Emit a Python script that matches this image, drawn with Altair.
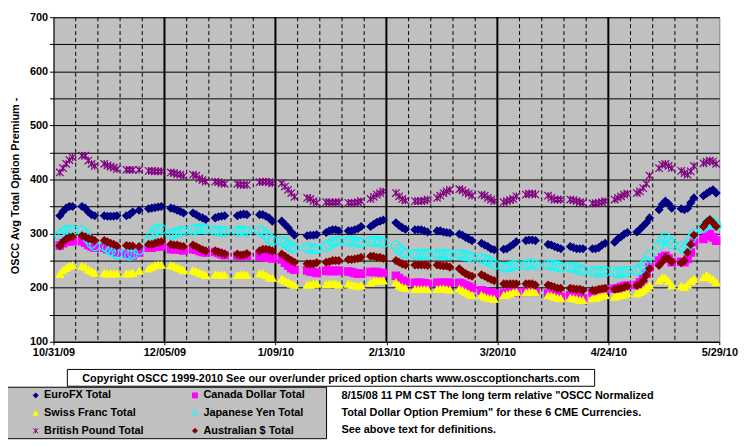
import altair as alt
import pandas as pd

# ---------------- data ----------------
holidays = ["2009-11-26", "2009-12-25", "2010-01-01", "2010-01-18", "2010-02-15", "2010-04-02"]
trade_days = [d.strftime("%Y-%m-%d") for d in pd.bdate_range("2009-11-02", "2010-05-28")
              if d.strftime("%Y-%m-%d") not in holidays]

eurofx = [
    [333, 341, 347, 350, 350], [350, 347, 340, 335, 333], [333, 332, 332, 332, 333], [333, 335, 340, 343],
    [346, 347, 348, 349, 350], [347, 346, 343, 341, 338], [338, 335, 331, 329, 326], [329, 331, 332, 333],
    [333, 335, 336, 335], [335, 335, 332, 329, 323], [323, 317, 311, 303, 297], [296, 297, 297, 298],
    [302, 305, 307, 307, 305], [305, 305, 307, 309, 313], [313, 317, 321, 323, 325], [320, 315, 311, 308],
    [307, 307, 307, 305, 303], [305, 305, 303, 302, 301], [299, 297, 293, 290, 287], [282, 279, 276, 272, 270],
    [271, 272, 276, 280, 285], [287, 288, 288, 287], [280, 279, 276, 274, 272], [276, 274, 272, 272, 272],
    [272, 272, 274, 279, 282], [284, 290, 294, 299, 302], [303, 308, 314, 320, 329], [344, 354, 360, 355, 347],
    [346, 344, 347, 357, 366], [370, 374, 378, 381, 375],
]
canada = [
    [278, 282, 285, 286, 286], [286, 283, 279, 276, 274], [274, 271, 271, 268, 265], [262, 260, 260, 265],
    [274, 274, 276, 276, 277], [271, 271, 271, 270, 269], [271, 270, 268, 266, 265], [266, 264, 262, 260],
    [259, 258, 259, 259], [258, 258, 256, 256, 254], [252, 246, 241, 236, 233], [232, 230, 229, 227],
    [231, 231, 231, 231, 231], [230, 229, 227, 226, 226], [229, 229, 229, 227, 227], [222, 218, 213, 211],
    [209, 209, 209, 208, 207], [209, 209, 209, 209, 209], [209, 207, 204, 202, 199], [195, 193, 192, 191, 189],
    [189, 189, 191, 191, 192], [192, 193, 193, 192], [189, 187, 186, 185, 183], [186, 185, 183, 181, 180],
    [191, 192, 193, 195, 197], [198, 199, 201, 203, 204], [205, 210, 216, 226, 238], [250, 256, 259, 254, 247],
    [248, 247, 253, 265, 284], [290, 296, 299, 293, 287],
]
swiss = [
    [225, 232, 236, 240, 241], [240, 238, 233, 230, 227], [227, 226, 226, 226, 226], [226, 226, 227, 231],
    [235, 238, 241, 242, 242], [241, 240, 237, 235, 232], [232, 230, 227, 226, 223], [224, 224, 223, 223],
    [223, 224, 224, 223], [226, 226, 223, 219, 218], [216, 213, 210, 207, 205], [205, 205, 207, 207],
    [206, 207, 207, 207, 205], [207, 205, 204, 203, 204], [209, 212, 213, 213, 213], [210, 204, 201, 199],
    [197, 197, 197, 197, 197], [197, 198, 198, 197, 196], [198, 195, 192, 189, 186], [186, 183, 181, 180, 179],
    [186, 187, 189, 191, 192], [191, 192, 192, 191], [186, 185, 183, 181, 180], [181, 180, 179, 177, 177],
    [180, 181, 183, 185, 186], [183, 185, 186, 187, 189], [189, 192, 195, 199, 204], [213, 219, 218, 212, 204],
    [203, 201, 205, 212, 216], [219, 223, 219, 215, 210],
]
yen = [
    [296, 302, 306, 307, 306], [305, 299, 290, 282, 277], [277, 274, 268, 265, 262], [262, 260, 263, 270],
    [287, 297, 306, 309, 308], [298, 300, 302, 304, 305], [306, 308, 309, 309, 308], [305, 305, 304, 304],
    [304, 305, 305, 304], [306, 303, 297, 291, 287], [287, 283, 279, 275, 273], [274, 272, 271, 272],
    [276, 280, 284, 286, 286], [286, 286, 285, 284, 283], [286, 286, 286, 285, 283], [277, 271, 266, 264],
    [262, 262, 262, 262, 262], [262, 262, 262, 261, 261], [262, 260, 259, 258, 256], [254, 252, 250, 247, 242],
    [238, 238, 239, 241, 242], [242, 244, 244, 242], [242, 242, 241, 240, 238], [238, 238, 236, 233, 232],
    [230, 229, 229, 230, 230], [229, 227, 229, 229, 230], [232, 235, 241, 248, 260], [277, 287, 293, 288, 281],
    [276, 271, 277, 290, 299], [311, 317, 323, 320, 315],
]
pound = [
    [413, 421, 429, 436, 441], [444, 444, 435, 429, 425], [429, 426, 424, 422, 419], [418, 418, 418, 418],
    [416, 416, 415, 415, 415], [413, 412, 410, 409, 406], [409, 407, 402, 399, 396], [396, 395, 393, 392],
    [392, 390, 390, 390], [395, 396, 396, 395, 393], [393, 387, 381, 375, 368], [366, 364, 360, 357],
    [358, 358, 357, 358, 358], [357, 357, 357, 358, 360], [364, 368, 372, 375, 378], [375, 369, 364, 361],
    [360, 360, 360, 361, 363], [366, 370, 375, 378, 381], [382, 380, 376, 374, 370], [372, 370, 366, 363, 360],
    [358, 360, 362, 364, 369], [372, 374, 374, 372], [370, 366, 363, 363, 363], [363, 362, 360, 358, 357],
    [356, 356, 357, 358, 360], [363, 366, 369, 372, 374], [375, 378, 384, 392, 407], [421, 427, 429, 425, 421],
    [416, 412, 409, 415, 425], [430, 433, 435, 433, 429],
]
aussie = [
    [277, 285, 290, 293, 294], [296, 294, 291, 290, 287], [287, 285, 282, 280, 277], [278, 277, 277, 276],
    [280, 280, 282, 284, 285], [280, 279, 279, 277, 276], [279, 276, 273, 270, 268], [268, 266, 264, 262],
    [262, 260, 261, 263], [268, 271, 271, 270, 268], [262, 258, 254, 250, 247], [244, 244, 244, 246],
    [247, 248, 250, 250, 250], [252, 252, 253, 254, 256], [258, 258, 256, 256, 254], [250, 247, 244, 242],
    [242, 242, 242, 242, 241], [242, 241, 240, 240, 238], [235, 230, 226, 223, 221], [224, 221, 218, 215, 213],
    [207, 207, 207, 207, 207], [207, 207, 207, 205], [205, 203, 201, 199, 199], [199, 198, 197, 197, 195],
    [195, 195, 197, 198, 199], [197, 198, 199, 201, 203], [204, 207, 213, 223, 235], [241, 248, 256, 253, 248],
    [246, 250, 265, 280, 297], [313, 321, 326, 320, 313],
]

series_names = ["EuroFX Total", "Canada Dollar Total", "Swiss Franc Total",
                "Japanese Yen Total", "British Pound Total", "Australian $ Total"]
series_weeks = [eurofx, canada, swiss, yen, pound, aussie]
stroke_colors = ["#000080", "#FF00FF", "#FFFF00", "#00FFFF", "#800080", "#800000"]
fill_colors = ["#000080", "#FF00FF", "#FFFF00", "transparent", "#800080", "#800000"]
shapes = ["diamond", "square", "triangle-up", "circle",
          "M-1,-1L1,1M1,-1L-1,1M0,-1L0,1", "diamond"]

major_lines = ["2009-12-05", "2010-01-09", "2010-02-13", "2010-03-20", "2010-04-24"]
label_dates = ["2009-10-31"] + major_lines + ["2010-05-29"]
minor_lines = [d.strftime("%Y-%m-%d") for d in pd.date_range("2009-11-07", "2010-05-22", freq="7D")
               if d.strftime("%Y-%m-%d") not in major_lines]

copyright_text = "Copyright OSCC 1999-2010 See our over/under priced option charts www.osccoptioncharts.com"
note_lines = ['8/15/08 11 PM CST The long term relative "OSCC Normalized',
              'Total Dollar Option Premium" for these 6 CME Currencies.',
              'See above text for definitions.']

rows = []
for name, weeks in zip(series_names, series_weeks):
    vals = [v for wk in weeks for v in wk]
    assert len(vals) == len(trade_days), (name, len(vals), len(trade_days))
    for d, v in zip(trade_days, vals):
        rows.append({"date": d, "series": name, "value": v})
df = pd.DataFrame(rows)

# ---------------- chart ----------------
FONT = "Liberation Sans"


def dt(s):
    y, m, d = (int(p) for p in s.split("-"))
    return alt.DateTime(year=y, month=m, date=d, utc=True)


x_scale = alt.Scale(type="utc", domain=[dt(label_dates[0]), dt(label_dates[-1])])
y_scale = alt.Scale(domain=[100, 700], nice=False)

legend = alt.Legend(
    title=None, orient="none", legendX=-23.5, legendY=376.5, columns=2, direction="horizontal",
    symbolSize=25, symbolStrokeWidth=1, symbolOpacity=1, labelFont=FONT, labelFontSize=11,
    labelFontWeight="bold", labelColor="black", rowPadding=6, columnPadding=46,
    padding=0, labelOffset=3, labelLimit=200,
)

minor_rules = alt.Chart(alt.Data(values=[{"d": s} for s in minor_lines])).mark_rule(
    color="black", strokeWidth=1, strokeDash=[4, 3]
).encode(x=alt.X("d:T", scale=x_scale))

major_rules = alt.Chart(alt.Data(values=[{"d": s} for s in major_lines])).mark_rule(
    color="black", strokeWidth=2
).encode(x=alt.X("d:T", scale=x_scale))

points = alt.Chart(df).mark_point(filled=False, strokeWidth=1.2, opacity=1).encode(
    x=alt.X("date:T", scale=x_scale,
            axis=alt.Axis(values=[dt(s) for s in label_dates], format="%-m/%d/%y", title=None,
                          grid=False, labelFont=FONT, labelFontSize=11, labelFontWeight="bold",
                          labelColor="black", domainColor="black", tickColor="black",
                          tickSize=3, labelPadding=2, labelOverlap=False, labelFlush=False)),
    y=alt.Y("value:Q", scale=y_scale,
            axis=alt.Axis(values=list(range(100, 701, 50)),
                          labelExpr="datum.value % 100 == 0 ? datum.label : ''",
                          title="OSCC Avg Total Option Premium -", titleFont=FONT,
                          titleFontSize=11, titleFontWeight="bold", titleColor="black",
                          titlePadding=9, titleY=170, grid=True, gridColor="black", gridWidth=1,
                          gridOpacity=1, labelFont=FONT, labelFontSize=11, labelFontWeight="bold",
                          labelColor="black", domainColor="black", tickColor="black",
                          tickSize=4, labelPadding=2)),
    stroke=alt.Stroke("series:N", scale=alt.Scale(domain=series_names, range=stroke_colors), legend=legend),
    fill=alt.Fill("series:N", scale=alt.Scale(domain=series_names, range=fill_colors), legend=legend),
    shape=alt.Shape("series:N", scale=alt.Scale(domain=series_names, range=shapes), legend=legend),
    size=alt.condition("datum.series == 'Japanese Yen Total'", alt.value(95),
                       alt.value(56)),
)

one = alt.Data(values=[{}])
legend_box = alt.Chart(one).mark_rect(fill="#C0C0C0", stroke="black", strokeWidth=1).encode(
    x=alt.value(-47), x2=alt.value(276), y=alt.value(374), y2=alt.value(426))
copy_box = alt.Chart(one).mark_rect(fill="white", stroke="black", strokeWidth=1).encode(
    x=alt.value(14), x2=alt.value(547), y=alt.value(356), y2=alt.value(373))
copy_txt = alt.Chart(one).mark_text(font=FONT, fontSize=11, fontWeight="bold", color="black",
                                    align="center", baseline="alphabetic").encode(
    x=alt.value(280.5), y=alt.value(369), text=alt.value(copyright_text))
note_txt = alt.Chart(one).mark_text(font=FONT, fontSize=11, fontWeight="bold", color="black",
                                    align="left", baseline="alphabetic", lineHeight=17).encode(
    x=alt.value(291), y=alt.value(386), text=alt.value(note_lines))

chart = alt.layer(legend_box, copy_box, copy_txt, note_txt, minor_rules, major_rules, points).properties(
    width=673, height=328,
    autosize=alt.AutoSizeParams(type="none"),
    padding={"left": 46, "top": 7, "right": 28, "bottom": 100},
    background="white",
).configure_view(fill="#C0C0C0", stroke="#808080", strokeWidth=1)

chart.save("out.html", embed_options={"renderer": "svg", "actions": False})
